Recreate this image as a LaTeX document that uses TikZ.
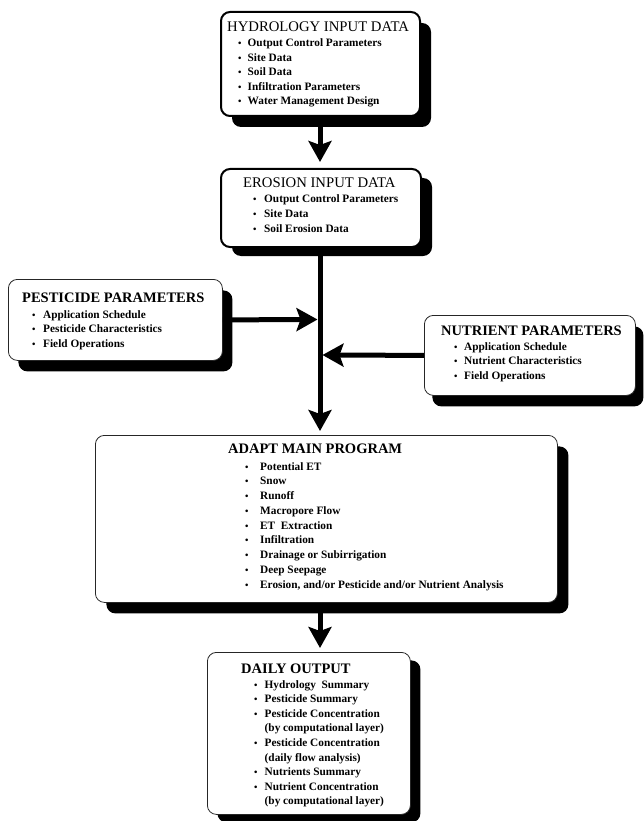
\documentclass[tikz,border=0pt]{standalone}
\usepackage{fontspec}
\usepackage{graphicx}
\setmainfont{Liberation Serif}
\usetikzlibrary{arrows.meta,shadows}
\newlength\bgap
\newcommand\bul[1]{\makebox[\bgap][l]{\scalebox{0.85}{•}}#1}
\tikzset{
  box/.style={draw=black!85, line width=0.8pt, fill=white, rounded corners=9pt,
    anchor=north west, inner sep=0pt},
  heavy/.style={line width=2pt, draw=black},
  shd/.style 2 args={drop shadow={shadow xshift=#1pt, shadow yshift=-#2pt, fill=black, opacity=1}},
  ttl/.style={anchor=base west, inner sep=0pt, font=\fontsize{#1}{18}\selectfont},
  bttl/.style={anchor=base west, inner sep=0pt, font=\fontsize{#1}{18}\selectfont\bfseries},
  items/.style={anchor=base west, inner sep=0pt, font=\fontsize{11.3}{#1}\selectfont\bfseries},
  arr/.style={line width=5pt, -{Stealth[length=21pt, width=23pt, inset=4pt]}}
}
\begin{document}
\begin{tikzpicture}[x=1pt,y=-1pt]
\useasboundingbox (0,0) rectangle (643,821);
\coordinate (spine) at (320,0);
% boxes
\node[box, heavy, shd={11}{11}, minimum width=199pt, minimum height=104pt] (hyd) at (220,11) {};
\node[box, heavy, shd={11}{9}, minimum width=200pt, minimum height=78pt] (ero) at (220,168) {};
\node[box, shd={10}{11}, minimum width=214pt, minimum height=81pt] (pest) at (8,279) {};
\node[box, shd={8}{11}, minimum width=211pt, minimum height=80pt] (nut) at (424,315) {};
\node[box, shd={11}{11}, minimum width=462pt, minimum height=167pt] (adapt) at (95,435) {};
\node[box, shd={10}{8}, minimum width=203pt, minimum height=162pt] (daily) at (207,652) {};
% texts
\node[ttl=14.7] (hydT) at (227,32) {HYDROLOGY INPUT DATA};
\node[items=14.5] (hydL) at (238,47) {\setlength\bgap{9.5pt}\begin{tabular}[t]{@{}l@{}}
\bul{Output Control Parameters}\\ \bul{Site Data}\\ \bul{Soil Data}\\
\bul{Infiltration Parameters}\\ \bul{Water Management Design}\end{tabular}};
\node[ttl=14.7] (eroT) at (243,187) {EROSION INPUT DATA};
\node[items=15] (eroL) at (253,202) {\setlength\bgap{11pt}\begin{tabular}[t]{@{}l@{}}
\bul{Output Control Parameters}\\ \bul{Site Data}\\ \bul{Soil Erosion Data}\end{tabular}};
\node[bttl=14.5] (pestT) at (22,302) {PESTICIDE PARAMETERS};
\node[items=14.5] (pestL) at (32,318) {\setlength\bgap{11pt}\begin{tabular}[t]{@{}l@{}}
\bul{Application Schedule}\\ \bul{Pesticide Characteristics}\\ \bul{Field Operations}\end{tabular}};
\node[bttl=14.5] (nutT) at (441,335) {NUTRIENT PARAMETERS};
\node[items=14.5] (nutL) at (454,350) {\setlength\bgap{10pt}\begin{tabular}[t]{@{}l@{}}
\bul{Application Schedule}\\ \bul{Nutrient Characteristics}\\ \bul{Field Operations}\end{tabular}};
\node[bttl=14.5] (adaptT) at (228,453) {ADAPT MAIN PROGRAM};
\node[items=14.75] (adaptL) at (245,470) {\setlength\bgap{15pt}\begin{tabular}[t]{@{}l@{}}
\bul{Potential ET}\\ \bul{Snow}\\ \bul{Runoff}\\ \bul{Macropore Flow}\\
\bul{ET\ \ Extraction}\\ \bul{Infiltration}\\ \bul{Drainage or Subirrigation}\\
\bul{Deep Seepage}\\ \bul{Erosion, and/or Pesticide and/or Nutrient Analysis}\end{tabular}};
\node[bttl=14.5] (dailyT) at (241,673) {DAILY OUTPUT};
\node[items=14.6] (dailyL) at (254,688) {\setlength\bgap{10.5pt}\begin{tabular}[t]{@{}l@{}}
\bul{Hydrology\ \ Summary}\\ \bul{Pesticide Summary}\\ \bul{Pesticide Concentration}\\
\makebox[\bgap]{}(by computational layer)\\ \bul{Pesticide Concentration}\\
\makebox[\bgap]{}(daily flow analysis)\\ \bul{Nutrients Summary}\\
\bul{Nutrient Concentration}\\ \makebox[\bgap]{}(by computational layer)\end{tabular}};
% connectors
\coordinate (jp) at (317.5,319.5);
\coordinate (jn) at (322.5,355);
\draw[arr] (hyd.south -| spine) -- ([yshift=6pt]ero.north -| spine);
\draw[arr] (ero.south -| spine) -- ([yshift=4pt]adapt.north -| spine);
\draw[arr] (pest.east) -- (jp);
\draw[arr] (nut.west) -- (jn);
\draw[arr] (adapt.south -| spine) -- ([yshift=4pt]daily.north -| spine);
\end{tikzpicture}
\end{document}
